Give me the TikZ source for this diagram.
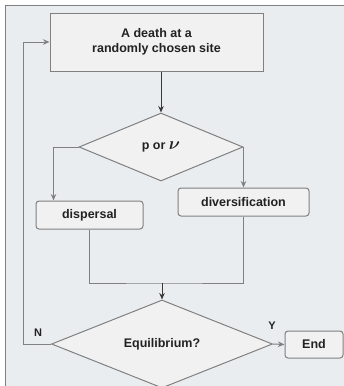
\documentclass[tikz,border=0pt]{standalone}
\usepackage{fontspec}
\setmainfont{Liberation Sans}
\usetikzlibrary{shapes.geometric,arrows.meta}
\definecolor{panel}{HTML}{E9EDF0}
\definecolor{boxfill}{HTML}{F1F1F1}
\definecolor{edge}{HTML}{808080}
\definecolor{ink}{HTML}{222222}
\tikzset{
  >={Stealth[length=6.5pt,width=5.5pt]},
  every node/.style={text=ink,font=\fontsize{12.5}{15}\selectfont\bfseries},
  stepbox/.style={draw=edge,fill=boxfill,line width=1pt,inner sep=0pt},
  choice/.style={diamond,draw=edge,fill=boxfill,line width=1pt,inner sep=0pt},
  link/.style={draw=edge,line width=1pt},
}
\begin{document}
\begin{tikzpicture}[x=1pt,y=-1pt]
        \useasboundingbox (0,0) rectangle (344,386);
        \draw[edge,fill=panel,line width=1pt] (5,5) rectangle (352,394);
        \node[stepbox,minimum width=213pt,minimum height=58pt,align=center] (death) at (156.5,42) {A death at a\\randomly chosen site};
        \node[choice,minimum width=164pt,minimum height=68pt] (pnu) at (161,147) {p or {\fontsize{19}{19}\selectfont\boldmath$\nu$}};
        \node[stepbox,rounded corners=3pt,minimum width=107pt,minimum height=28pt] (disp) at (89.5,215) {dispersal};
        \node[stepbox,rounded corners=3pt,minimum width=131pt,minimum height=28pt] (div) at (243.5,202) {diversification};
        \node[choice,minimum width=221pt,minimum height=72pt] (equil) at (162,344) {Equilibrium?};
        \node[stepbox,rounded corners=3pt,minimum width=58pt,minimum height=27pt] (end) at (314,344.5) {End};
        \node[font=\fontsize{11}{13}\selectfont\bfseries] (no) at (38,333) {N};
        \node[font=\fontsize{11}{13}\selectfont\bfseries] (yes) at (272,326) {Y};
        \coordinate (join) at (162,283);
        \coordinate (back) at (23,344);
        \draw[->,link,draw=ink!90] (pnu.north |- death.south) to (pnu.north);
        \draw[->,link] (pnu.west) -| ([xshift=18pt]disp.north west);
        \draw[->,link] (pnu.east) to (pnu.east |- div.north);
        \draw[link] (disp.south) |- (join) -| (div.south);
        \draw[->,link,draw=ink!90] (join) to (equil.north);
        \draw[->,link] (equil.east) to (end.west);
        \draw[->,link] (equil.west) -- (back) |- (death.west);
    \end{tikzpicture}
\end{document}
